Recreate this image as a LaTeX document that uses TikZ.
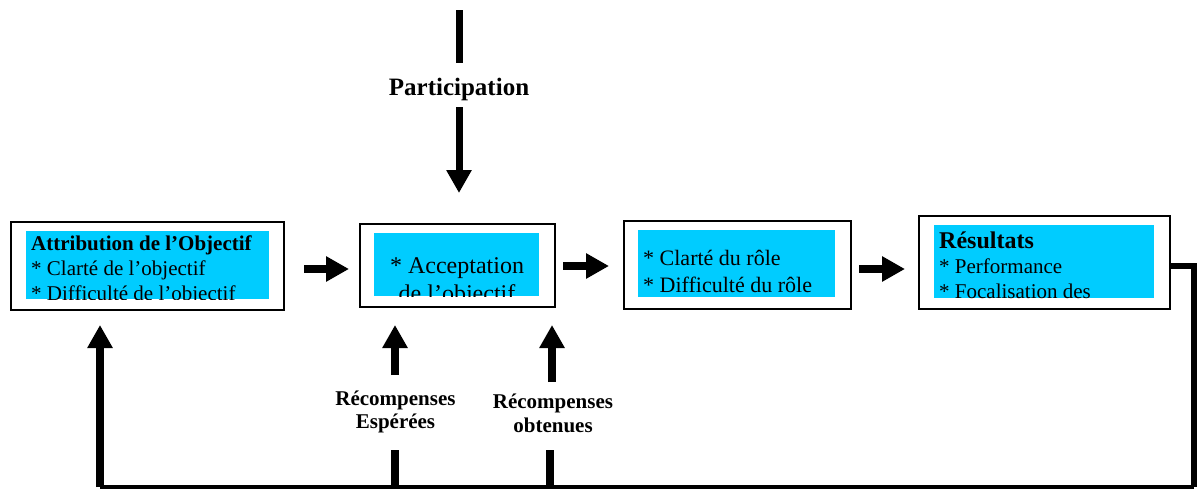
\documentclass[tikz,border=0pt]{standalone}
\usepackage{fontspec}
\setmainfont{Liberation Serif}
\usetikzlibrary{arrows.meta}
\definecolor{cyanbox}{RGB}{0,204,255}
\begin{document}
\begin{tikzpicture}[x=1pt,y=-1pt,
  frame/.style={draw=black, line width=1.8pt, inner sep=0pt, anchor=north west},
  txt/.style={inner sep=0pt, anchor=base west},
  ctxt/.style={inner sep=0pt, anchor=base},
  fat/.style={line width=8pt, -{Triangle[width=24pt,length=23pt]}},
  bar/.style={line width=7pt},
  reg/.style={font=\fontsize{21}{25}\selectfont},
  bold/.style={font=\bfseries\fontsize{21}{25}\selectfont}]
\useasboundingbox (0,0) rectangle (1204,490);

% ---- boxes ----
\node[frame, minimum width=273pt, minimum height=88pt] (b1) at (10,221) {};
\node[frame, minimum width=195pt, minimum height=83pt] (b2) at (359,223) {};
\node[frame, minimum width=227pt, minimum height=88pt] (b3) at (623,220) {};
\node[frame, minimum width=251pt, minimum height=93pt] (b4) at (918,215) {};

\fill[cyanbox] (26,231) rectangle (269,299);
\fill[cyanbox] (374,233) rectangle (539,296);
\fill[cyanbox] (638,230) rectangle (835,297);
\fill[cyanbox] (934,225) rectangle (1154,298);

\begin{scope}
\clip (26,231) rectangle (269,299);
\node[txt, bold] (t11) at (31,250) {Attribution de l’Objectif};
\node[txt, reg] (t12) at (31,275) {* Clarté de l’objectif};
\node[txt, reg] (t13) at (31,300) {* Difficulté de l’objectif};
\end{scope}

\begin{scope}
\clip (374,233) rectangle (539,296);
\node[ctxt, font=\fontsize{24}{28}\selectfont] (t21) at (457,273) {* Acceptation};
\node[ctxt, font=\fontsize{24}{28}\selectfont] (t22) at (457,301) {de l’objectif};
\end{scope}

\begin{scope}
\clip (638,230) rectangle (835,297);
\node[txt, font=\fontsize{22}{27}\selectfont] (t31) at (643,265) {* Clarté du rôle};
\node[txt, font=\fontsize{22}{27}\selectfont] (t32) at (643,292) {* Difficulté du rôle};
\end{scope}

\begin{scope}
\clip (934,225) rectangle (1154,298);
\node[txt, font=\bfseries\fontsize{24}{28}\selectfont] (t41) at (939,248) {Résultats};
\node[txt, reg] (t42) at (939,273) {* Performance};
\node[txt, reg] (t43) at (939,298) {* Focalisation des};
\end{scope}

% ---- labels ----
\node[ctxt, font=\bfseries\fontsize{25}{28}\selectfont] (part) at (459,95) {Participation};
\node[ctxt, bold] (re1) at (395.5,405) {Récompenses};
\node[ctxt, bold] (re2) at (395.5,428) {Espérées};
\node[ctxt, bold] (ro1) at (553,408) {Récompenses};
\node[ctxt, bold] (ro2) at (553,432) {obtenues};

% ---- coordinates ----
\coordinate (a1s) at (304,269); \coordinate (a1e) at (349,269);
\coordinate (a2s) at (563,266); \coordinate (a2e) at (609,266);
\coordinate (a3s) at (859,269); \coordinate (a3e) at (905,269);
\coordinate (p0) at (459,10); \coordinate (p1) at (459,63);
\coordinate (p2) at (459,107); \coordinate (p3) at (459,193);
\coordinate (e0) at (395,375); \coordinate (e1) at (395,325);
\coordinate (e2) at (395,450); \coordinate (e3) at (395,487);
\coordinate (o0) at (552,382); \coordinate (o1) at (552,325);
\coordinate (o2) at (550,450); \coordinate (o3) at (550,487);
\coordinate (f0) at (1169,265.5); \coordinate (f1) at (1194,265.5);
\coordinate (f2) at (1194,487); \coordinate (f3) at (100,487);
\coordinate (f4) at (100,325);

% ---- connectors ----
\draw[fat] (a1s) -- (a1e);
\draw[fat] (a2s) -- (a2e);
\draw[fat] (a3s) -- (a3e);
\draw[bar] (p0) -- (p1);
\draw[fat, line width=7pt] (p2) -- (p3);
\draw[fat] (e0) -- (e1);
\draw[fat] (o0) -- (o1);
\draw[line width=8pt] (e2) -- (e3);
\draw[line width=8pt] (o2) -- (o3);
\draw[line width=6pt] (f0) -- (f1) -- (f2);
\draw[line width=4.5pt] (f2) -- (f3);
\draw[fat] (f3) -- (f4);
\end{tikzpicture}
\end{document}
